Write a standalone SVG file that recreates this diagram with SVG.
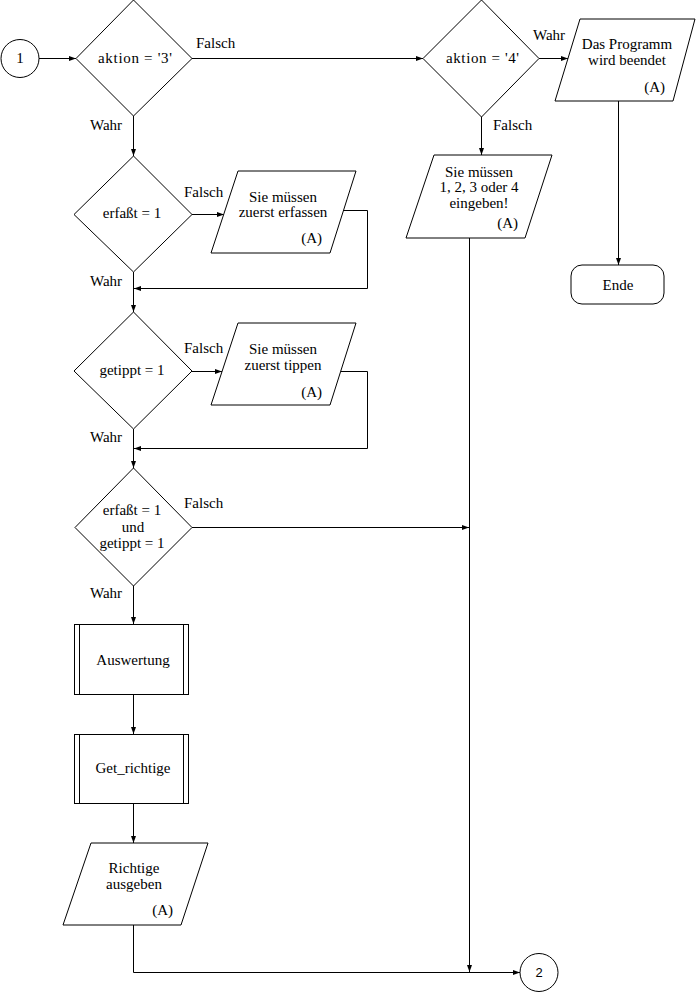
<svg xmlns="http://www.w3.org/2000/svg" width="700" height="992" viewBox="0 0 700 992">
<style>
.s{fill:#fff;stroke:#000;stroke-width:1}
.c{fill:none;stroke:#000;stroke-width:1}
text{font-family:"Liberation Serif","Times New Roman",serif;font-size:15px;fill:#000}
.m{text-anchor:middle}
.e{text-anchor:end}
.n{font-family:"Liberation Sans",Arial,sans-serif;font-size:13px}
</style>
<defs>
<marker id="a" markerUnits="userSpaceOnUse" markerWidth="7" markerHeight="6" refX="7" refY="3" orient="auto">
<path d="M0,0.5 L7,3 L0,5.5 z" fill="#000"/>
</marker>
</defs>
<rect width="700" height="992" fill="#fff"/>
<g id="connectors" class="c" marker-end="url(#a)">
<path d="M39,58.5 H76"/>
<path d="M192,58.5 H423"/>
<path d="M539,58.5 H568"/>
<path d="M618.5,101 V265"/>
<path d="M481.5,117 V155"/>
<path d="M133.5,116 V156"/>
<path d="M192,214.5 H224"/>
<path d="M343,210.5 H367.5 V288.5 H134"/>
<path d="M133.5,272 V312"/>
<path d="M192,371.5 H222"/>
<path d="M341,371.5 H367.5 V448.5 H134"/>
<path d="M133.5,429 V468"/>
<path d="M192,527.5 H469"/>
<path d="M469.5,238 V972"/>
<path d="M133.5,586 V624"/>
<path d="M133.5,695 V734"/>
<path d="M133.5,804 V843"/>
<path d="M133.5,925 V972.5 H520"/>
</g>
<g id="labels">
<text x="196" y="48">Falsch</text>
<text x="90" y="130">Wahr</text>
<text x="184" y="197">Falsch</text>
<text x="90" y="286">Wahr</text>
<text x="184" y="353">Falsch</text>
<text x="90" y="442">Wahr</text>
<text x="184" y="508">Falsch</text>
<text x="90" y="598">Wahr</text>
<text x="533" y="40">Wahr</text>
<text x="493" y="130">Falsch</text>
</g>
<g id="start">
<circle class="s" cx="20" cy="58.5" r="19"/>
<text class="m" x="20" y="63">1</text>
</g>
<g id="d_aktion3">
<polygon class="s" points="133.5,0 192,58.5 133.5,116 76,58.5"/>
<text x="98" y="63" textLength="74">aktion = '3'</text>
</g>
<g id="d_aktion4">
<polygon class="s" points="481.5,0 539,58.5 481.5,117 423,58.5"/>
<text x="446" y="63" textLength="73">aktion = '4'</text>
</g>
<g id="o_ende_msg">
<polygon class="s" points="580,19 695,19 673,101 555,101"/>
<text class="m" x="627" y="49">Das Programm</text>
<text class="m" x="627" y="65">wird beendet</text>
<text class="e" x="665" y="92">(A)</text>
</g>
<g id="ende">
<rect class="s" x="571" y="265" width="93" height="39" rx="11"/>
<text class="m" x="618" y="290">Ende</text>
</g>
<g id="o_eingeben">
<polygon class="s" points="434,155 552,155 525,238 406,238"/>
<text class="m" x="479" y="177">Sie müssen</text>
<text class="m" x="479" y="192">1, 2, 3 oder 4</text>
<text class="m" x="479" y="208">eingeben!</text>
<text class="e" x="518" y="228">(A)</text>
</g>
<g id="d_erfasst">
<polygon class="s" points="133.5,156 192,214.5 133.5,272 74,214.5"/>
<text class="m" x="132" y="218">erfaßt = 1</text>
</g>
<g id="o_erfassen">
<polygon class="s" points="238,171 356,171 330,253 211,253"/>
<text class="m" x="283" y="202">Sie müssen</text>
<text class="m" x="283" y="217">zuerst erfassen</text>
<text class="e" x="322" y="243">(A)</text>
</g>
<g id="d_getippt">
<polygon class="s" points="133.5,312 192,371 133.5,429 74,371"/>
<text class="m" x="132" y="375">getippt = 1</text>
</g>
<g id="o_tippen">
<polygon class="s" points="238,323 356,323 330,405 211,405"/>
<text class="m" x="283" y="354">Sie müssen</text>
<text class="m" x="283" y="370">zuerst tippen</text>
<text class="e" x="322" y="397">(A)</text>
</g>
<g id="d_beide">
<polygon class="s" points="133.5,468 192,527.5 133.5,586 75,527.5"/>
<text class="m" x="132" y="515">erfaßt = 1</text>
<text class="m" x="133" y="532">und</text>
<text class="m" x="132" y="548">getippt = 1</text>
</g>
<g id="p_auswertung">
<rect class="s" x="74.5" y="624.5" width="114" height="70"/>
<path class="c" d="M79.5,624.5 V694.5 M183.5,624.5 V694.5"/>
<text class="m" x="133" y="665">Auswertung</text>
</g>
<g id="p_get_richtige">
<rect class="s" x="74.5" y="734.5" width="114" height="69"/>
<path class="c" d="M79.5,734.5 V803.5 M183.5,734.5 V803.5"/>
<text class="m" x="133" y="773">Get_richtige</text>
</g>
<g id="o_richtige">
<polygon class="s" points="91,843 208,843 181,925 63,925"/>
<text class="m" x="134" y="873">Richtige</text>
<text class="m" x="134" y="889">ausgeben</text>
<text class="e" x="173" y="915">(A)</text>
</g>
<g id="end_connector">
<circle class="s" cx="539" cy="972.5" r="19"/>
<text class="m n" x="539" y="977">2</text>
</g>
</svg>
